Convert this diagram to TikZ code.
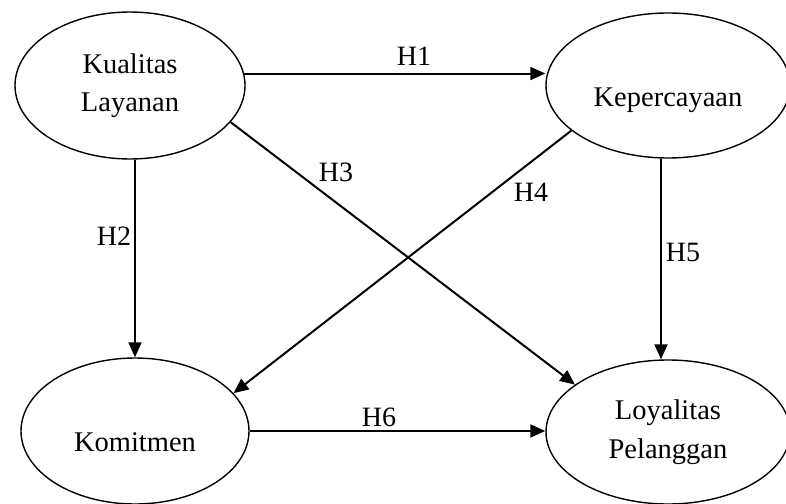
\documentclass[tikz,border=0pt]{standalone}
\usepackage{fontspec}
\setmainfont{Liberation Serif}
\usetikzlibrary{shapes.geometric,arrows.meta}
\begin{document}
\begin{tikzpicture}[x=1pt,y=-1pt,
  var/.style={ellipse, draw, line width=1.4pt, inner sep=0pt, align=center,
              font=\fontsize{28.5}{38.5}\selectfont},
  oneline/.style={text height=47pt, text depth=6pt},
  arr/.style={line width=2pt, -{Triangle[length=15pt,width=13pt]}},
  hyp/.style={anchor=base, inner sep=0pt, font=\fontsize{28}{33}\selectfont}]
\useasboundingbox (0,0) rectangle (786,503);

\node[var, minimum width=230pt, minimum height=147pt] (kl) at (130,85.5) {Kualitas\\Layanan};
\node[var, oneline, minimum width=244pt, minimum height=145pt] (kp) at (668,85.5) {Kepercayaan};
\node[var, oneline, minimum width=228pt, minimum height=146pt] (km) at (135,431) {Komitmen};
\node[var, minimum width=244pt, minimum height=144pt] (ly) at (668,432) {Loyalitas\\Pelanggan};

\draw[arr] (kl.6.5) -- (kl.6.5 -| kp.west);
\draw[arr] (km.north |- kl.south) -- (km.north);
\draw[arr] (kl.-20) -- (ly.153.6);
\draw[arr] (kp.205.4) -- (km.21);
\draw[arr] ([xshift=-7pt]kp.south) -- ([xshift=-7pt]ly.north);
\draw[arr] (km.east) -- (km.east -| ly.west);

\node[hyp] (h1) at (414,65) {H1};
\node[hyp] (h2) at (114,245) {H2};
\node[hyp] (h3) at (336,181) {H3};
\node[hyp] (h4) at (531,201) {H4};
\node[hyp] (h5) at (683,261.5) {H5};
\node[hyp] (h6) at (379,426.5) {H6};
\end{tikzpicture}
\end{document}
